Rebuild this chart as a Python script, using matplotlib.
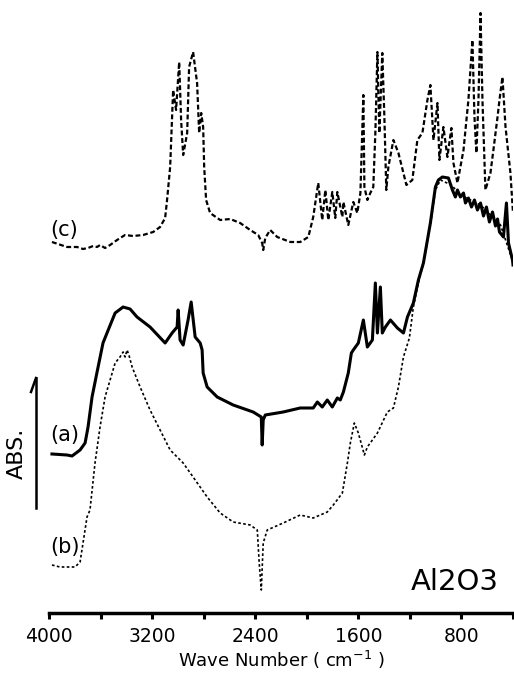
import matplotlib
matplotlib.use("Agg")
import matplotlib.pyplot as plt

# Curve (c) - dashed, top
wn_c = [3977, 3860, 3782, 3736, 3697, 3658, 3627, 3604, 3565, 3526, 3472, 3410, 3348, 3270,
        3192, 3138, 3099, 3084, 3060, 3045, 3037, 3014, 2990, 2975, 2959, 2928, 2913, 2882,
        2851, 2835, 2819, 2804, 2796, 2781, 2750, 2672, 2594, 2517, 2439, 2377, 2346, 2338,
        2322, 2284, 2229, 2128, 2051, 1988, 1950, 1911, 1880, 1856, 1833, 1802, 1779, 1763,
        1724, 1716, 1678, 1639, 1608, 1584, 1561, 1553, 1530, 1507, 1484, 1468, 1452, 1437,
        1414, 1398, 1383, 1367, 1328, 1289, 1227, 1181, 1142, 1103, 1064, 1041, 1017, 986,
        971, 940, 909, 878, 862, 831, 784, 746, 715, 699, 684, 668, 652, 637, 614, 575, 552,
        520, 505, 482, 458, 420, 400]
abs_c = [3.71, 3.66, 3.66, 3.64, 3.65, 3.67, 3.66, 3.68, 3.65, 3.68, 3.73, 3.78, 3.77, 3.78,
         3.81, 3.86, 3.95, 4.13, 4.46, 4.96, 5.23, 5.03, 5.51, 4.93, 4.58, 4.80, 5.46, 5.61,
         5.30, 4.80, 5.00, 4.86, 4.46, 4.13, 4.00, 3.93, 3.94, 3.90, 3.83, 3.78, 3.70, 3.63,
         3.75, 3.83, 3.76, 3.71, 3.71, 3.76, 3.96, 4.30, 3.93, 4.23, 3.93, 4.21, 3.95, 4.21,
         3.96, 4.11, 3.88, 4.11, 4.00, 4.20, 5.18, 4.26, 4.13, 4.20, 4.26, 4.80, 5.61, 4.80,
         5.60, 4.96, 4.23, 4.46, 4.73, 4.60, 4.28, 4.33, 4.73, 4.80, 5.13, 5.28, 4.73, 5.10,
         4.53, 4.86, 4.56, 4.85, 4.50, 4.30, 4.63, 5.13, 5.73, 4.96, 4.60, 5.13, 6.00, 5.13,
         4.23, 4.40, 4.63, 4.96, 5.13, 5.36, 4.86, 4.40, 4.00]

# Curve (a) - solid, middle
wn_a = [3977, 3860, 3821, 3759, 3720, 3697, 3666, 3627, 3581, 3550, 3487, 3425, 3371, 3317,
        3216, 3099, 3045, 3006, 2998, 2983, 2959, 2921, 2897, 2866, 2827, 2812, 2804, 2773,
        2695, 2571, 2416, 2353, 2346, 2338, 2322, 2183, 2051, 1950, 1918, 1880, 1841, 1802,
        1763, 1740, 1716, 1678, 1654, 1639, 1600, 1561, 1530, 1491, 1468, 1452, 1429, 1414,
        1390, 1351, 1297, 1250, 1219, 1173, 1134, 1095, 1041, 1002, 979, 948, 901, 870, 847,
        831, 808, 784, 769, 746, 722, 699, 676, 652, 629, 606, 583, 559, 536, 520, 505, 474,
        451, 435, 404, 400]
abs_a = [1.59, 1.58, 1.57, 1.63, 1.70, 1.86, 2.16, 2.41, 2.70, 2.80, 3.00, 3.06, 3.04, 2.96,
         2.86, 2.70, 2.80, 2.86, 3.03, 2.73, 2.68, 2.93, 3.11, 2.76, 2.70, 2.63, 2.40, 2.26,
         2.16, 2.08, 2.01, 1.96, 1.68, 1.93, 1.98, 2.01, 2.05, 2.05, 2.11, 2.06, 2.13, 2.06,
         2.15, 2.13, 2.21, 2.40, 2.60, 2.63, 2.70, 2.93, 2.66, 2.73, 3.30, 2.80, 3.26, 2.80,
         2.86, 2.93, 2.85, 2.80, 2.96, 3.10, 3.33, 3.50, 3.90, 4.26, 4.33, 4.36, 4.35, 4.23,
         4.16, 4.23, 4.16, 4.20, 4.10, 4.15, 4.06, 4.13, 4.03, 4.10, 3.97, 4.06, 3.91, 4.01,
         3.87, 3.94, 3.81, 3.76, 4.10, 3.70, 3.53, 3.48]

# Curve (b) - dotted, bottom
wn_b = [3977, 3915, 3798, 3759, 3736, 3705, 3682, 3643, 3604, 3565, 3526, 3487, 3449, 3425,
        3410, 3394, 3378, 3355, 3293, 3216, 3138, 3060, 2959, 2882, 2773, 2672, 2571, 2439,
        2384, 2369, 2353, 2338, 2307, 2183, 2051, 1950, 1841, 1794, 1724, 1685, 1662, 1631,
        1600, 1553, 1530, 1452, 1375, 1328, 1289, 1250, 1204, 1173, 1134, 1095, 1041, 1002,
        963, 878, 808, 652, 497, 400]
abs_b = [0.48, 0.46, 0.46, 0.51, 0.70, 0.96, 1.03, 1.50, 1.86, 2.16, 2.33, 2.50, 2.56, 2.61,
         2.56, 2.63, 2.57, 2.46, 2.26, 2.03, 1.83, 1.63, 1.50, 1.36, 1.16, 1.00, 0.91, 0.88,
         0.83, 0.50, 0.23, 0.70, 0.83, 0.90, 0.98, 0.95, 1.01, 1.08, 1.20, 1.50, 1.70, 1.90,
         1.80, 1.58, 1.66, 1.80, 2.01, 2.05, 2.26, 2.56, 2.75, 3.06, 3.30, 3.50, 3.88, 4.23,
         4.33, 4.28, 4.18, 4.08, 3.88, 3.51]

xticks = [4000, 3600, 3200, 2800, 2400, 2000, 1600, 1200, 800, 400]
xticklabels = ["4000", "", "3200", "", "2400", "", "1600", "", "800", ""]

fig = plt.figure(figsize=(5.14, 6.74), dpi=100)
ax = fig.add_axes([49 / 514, 61 / 674, 464 / 514, 613 / 674])

ax.plot(wn_b, abs_b, color="black", lw=1.2, linestyle=(0, (1.6, 1.4)))
ax.plot(wn_c, abs_c, color="black", lw=1.6, linestyle=(0, (2.2, 1.2)))
ax.plot(wn_a, abs_a, color="black", lw=2.2, solid_joinstyle="round")

ax.set_xlim(4000, 400)
ax.set_ylim(0, 6.13)
for s in ["left", "right", "top"]:
    ax.spines[s].set_visible(False)
ax.spines["bottom"].set_linewidth(2.5)
ax.set_yticks([])
ax.set_xticks(xticks)
ax.set_xticklabels(xticklabels, fontsize=13.5)
ax.tick_params(axis="x", direction="out", length=4, width=2.2, pad=6)
ax.set_xlabel("Wave Number ( cm$^{-1}$ )", fontsize=13, labelpad=2)

# curve labels
ax.text(3990, 3.83, "(c)", fontsize=15, ha="left", va="center")
ax.text(3990, 1.78, "(a)", fontsize=15, ha="left", va="center")
ax.text(3990, 0.66, "(b)", fontsize=15, ha="left", va="center")
ax.text(854, 0.31, "Al2O3", fontsize=21, ha="center", va="center")

# ABS. scale bar
fig.text(17 / 514, 1 - 453 / 674, "ABS.", rotation=90, fontsize=16, ha="center", va="center")
fig.add_artist(plt.Line2D([36 / 514, 36 / 514], [1 - 508 / 674, 1 - 378 / 674],
                          color="black", lw=1.8))
fig.add_artist(plt.Line2D([31 / 514, 36 / 514], [1 - 392 / 674, 1 - 378 / 674],
                          color="black", lw=1.8))

fig.savefig("out.png", dpi=100)
